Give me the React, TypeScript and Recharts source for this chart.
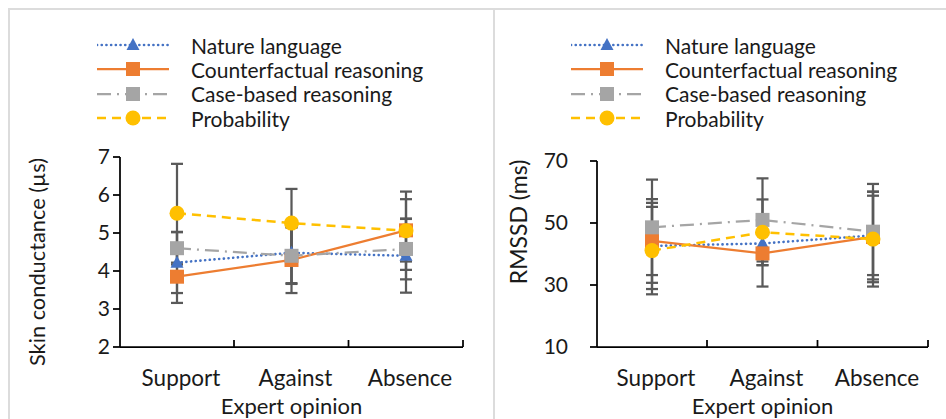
import React from "react";
import { LineChart, Line, XAxis, YAxis, ErrorBar, Legend, Label } from "recharts";

const categories = ["Support", "Against", "Absence"];
const seriesNames = [
  "Nature language",
  "Counterfactual reasoning",
  "Case-based reasoning",
  "Probability",
];

// Skin conductance (µs)
const scNature = [4.22, 4.48, 4.4];
const scCounterfactual = [3.85, 4.29, 5.07];
const scCaseBased = [4.6, 4.4, 4.58];
const scProbability = [5.52, 5.26, 5.06];
const scNatureErr = [0.8, 0.8, 0.97];
const scCounterfactualErr = [0.69, 0.87, 0.82];
const scCaseBasedErr = [0.43, 0.74, 0.8];
const scProbabilityErr = [1.3, 0.9, 1.03];
const scTicks = [2, 3, 4, 5, 6, 7];

// RMSSD (ms)
const rmNature = [42.6, 43.4, 46.0];
const rmCounterfactual = [44.2, 40.2, 45.5];
const rmCaseBased = [48.6, 51.0, 47.2];
const rmProbability = [41.1, 47.0, 44.8];
const rmNatureErr = [13.9, 7.0, 12.8];
const rmCounterfactualErr = [13.5, 10.7, 14.6];
const rmCaseBasedErr = [15.4, 13.4, 15.4];
const rmProbabilityErr = [14.1, 10.6, 15.3];
const rmTicks = [10, 30, 50, 70];

const FONT = "Lato, 'Open Sans', sans-serif";
const TEXT = "#1a1a1a";
const ERR = "#595959";
const X_TICK_MARGIN = 23;

// line / marker look per series
const STYLES = [
  { color: "#4472C4", dash: "0.1 4.6", cap: "round", width: 2.6, shape: "triangle" },
  { color: "#ED7D31", dash: undefined, cap: "butt", width: 2.25, shape: "square" },
  { color: "#A5A5A5", dash: "14 6 2 6", cap: "butt", width: 2.25, shape: "square" },
  { color: "#FFC000", dash: "9 6", cap: "butt", width: 2.5, shape: "circle" },
];

function marker(shape: string, color: string, cx: number, cy: number, key?: any) {
  if (cx == null || cy == null) return <g key={key} />;
  if (shape === "square")
    return <rect key={key} x={cx - 7} y={cy - 7} width={14} height={14} fill={color} />;
  if (shape === "circle") return <circle key={key} cx={cx} cy={cy} r={7.5} fill={color} />;
  return (
    <path
      key={key}
      d={`M${cx},${cy - 7} L${cx + 6.5},${cy + 5} L${cx - 6.5},${cy + 5} Z`}
      fill={color}
    />
  );
}

function buildRows(values: number[][], errors: number[][]) {
  return categories.map((name, i) => {
    const row: any = { name };
    values.forEach((v, s) => {
      row["s" + s] = v[i];
      row["e" + s] = errors[s][i];
    });
    return row;
  });
}

const LegendBox = () => (
  <div style={{ fontFamily: FONT, fontSize: 21, color: TEXT }}>
    {seriesNames.map((n, i) => {
      const st = STYLES[i];
      return (
        <div key={n} style={{ display: "flex", alignItems: "center", height: 24.3 }}>
          <svg width={72} height={24}>
            <line
              x1={0}
              y1={12}
              x2={72}
              y2={12}
              stroke={st.color}
              strokeWidth={st.width}
              strokeDasharray={st.dash}
              strokeLinecap={st.cap as any}
            />
            {marker(st.shape, st.color, 36, 12)}
          </svg>
          <span style={{ marginLeft: 22, whiteSpace: "nowrap" }}>{n}</span>
        </div>
      );
    })}
  </div>
);

interface PanelProps {
  left: number;
  width: number;
  top: number;
  yAxisWidth: number;
  right: number;
  domain: [number, number];
  ticks: number[];
  tickMargin: number;
  yTitle: string;
  yTitleSize: number;
  yTitleX: number;
  yTitleY: number;
  catPad: number;
  legendLeft: number;
  values: number[][];
  errors: number[][];
}

const Panel = (p: PanelProps) => {
  const rows = buildRows(p.values, p.errors);
  // category label plus an Excel-style inward tick on the boundary to its right
  const renderCatTick = (t: any) => {
    const axisY = t.y - X_TICK_MARGIN;
    const bx = t.x + p.catPad;
    return (
      <g>
        <line x1={bx} y1={axisY} x2={bx} y2={axisY - 7} stroke="#000" strokeWidth={1.75} />
        <text
          x={t.x + 4}
          y={t.y}
          dy="0.71em"
          textAnchor="middle"
          fontSize={22.5}
          fontFamily={FONT}
          fill={TEXT}
        >
          {t.payload.value}
        </text>
      </g>
    );
  };
  return (
    <div style={{ position: "absolute", left: p.left, top: 0 }}>
      <LineChart
        width={p.width}
        height={419}
        data={rows}
        margin={{ top: p.top, right: p.right, bottom: 0, left: 0 }}
      >
        <XAxis
          dataKey="name"
          type="category"
          height={72}
          padding={{ left: p.catPad, right: p.catPad }}
          axisLine={{ stroke: "#000", strokeWidth: 1.75 }}
          tickLine={false}
          tickSize={0}
          tickMargin={X_TICK_MARGIN}
          interval={0}
          tick={renderCatTick}
        >
          <Label
            content={(l: any) => {
              const vb = l.viewBox;
              return (
                <text
                  x={vb.x + vb.width / 2}
                  y={vb.y + vb.height - 5}
                  textAnchor="middle"
                  fontSize={22}
                  fontFamily={FONT}
                  fill={TEXT}
                >
                  Expert opinion
                </text>
              );
            }}
          />
        </XAxis>
        <YAxis
          width={p.yAxisWidth}
          domain={p.domain}
          ticks={p.ticks}
          interval={0}
          axisLine={{ stroke: "#000", strokeWidth: 1.75 }}
          tickLine={{ stroke: "#000", strokeWidth: 1.75 }}
          tickSize={7}
          tickMargin={p.tickMargin}
          tick={{ fontSize: 21, fontFamily: FONT, fill: TEXT }}
        >
          <Label
            content={() => (
              <text
                x={p.yTitleX}
                y={p.yTitleY}
                transform={`rotate(-90 ${p.yTitleX} ${p.yTitleY})`}
                textAnchor="middle"
                dominantBaseline="central"
                fontSize={p.yTitleSize}
                fontFamily={FONT}
                fill={TEXT}
              >
                {p.yTitle}
              </text>
            )}
          />
        </YAxis>
        <Legend
          layout="horizontal"
          verticalAlign="middle"
          align="center"
          wrapperStyle={{ top: 33, left: p.legendLeft, width: 340 }}
          content={() => <LegendBox />}
        />
        {/* error bars first so the lines and markers sit over them */}
        {STYLES.map((st, i) => (
          <Line
            key={"err" + i}
            dataKey={"s" + i}
            stroke="none"
            dot={false}
            activeDot={false}
            legendType="none"
            isAnimationActive={false}
          >
            <ErrorBar
              dataKey={"e" + i}
              direction="y"
              width={6}
              stroke={ERR}
              strokeWidth={2.25}
            />
          </Line>
        ))}
        {STYLES.map((st, i) => (
          <Line
            key={"line" + i}
            dataKey={"s" + i}
            name={seriesNames[i]}
            stroke={st.color}
            strokeWidth={st.width}
            strokeDasharray={st.dash}
            strokeLinecap={st.cap as any}
            dot={(d: any) => marker(st.shape, st.color, d.cx, d.cy, "d" + i + "-" + d.index)}
            activeDot={false}
            isAnimationActive={false}
          />
        ))}
      </LineChart>
    </div>
  );
};

export default function App() {
  return (
    <div
      style={{
        position: "absolute",
        left: 0,
        top: 0,
        width: 946,
        height: 419,
        background: "#fff",
        overflow: "hidden",
      }}
    >
      <div
        style={{
          position: "absolute",
          left: 8,
          top: 8,
          width: 960,
          height: 440,
          borderTop: "2px solid #dcdcdc",
          borderLeft: "2px solid #dcdcdc",
        }}
      />
      <div
        style={{ position: "absolute", left: 493, top: 8, width: 2, height: 440, background: "#dcdcdc" }}
      />
      <Panel
        left={0}
        width={486}
        top={157}
        yAxisWidth={120}
        right={23}
        domain={[2, 7]}
        ticks={scTicks}
        tickMargin={3}
        yTitle="Skin conductance (µs)"
        yTitleSize={21.8}
        yTitleX={36}
        yTitleY={262}
        catPad={57}
        legendLeft={97}
        values={[scNature, scCounterfactual, scCaseBased, scProbability]}
        errors={[scNatureErr, scCounterfactualErr, scCaseBasedErr, scProbabilityErr]}
      />
      <Panel
        left={486}
        width={460}
        top={161}
        yAxisWidth={111}
        right={18}
        domain={[10, 70]}
        ticks={rmTicks}
        tickMargin={22}
        yTitle="RMSSD (ms)"
        yTitleSize={23}
        yTitleX={32}
        yTitleY={222}
        catPad={55}
        legendLeft={85}
        values={[rmNature, rmCounterfactual, rmCaseBased, rmProbability]}
        errors={[rmNatureErr, rmCounterfactualErr, rmCaseBasedErr, rmProbabilityErr]}
      />
    </div>
  );
}
